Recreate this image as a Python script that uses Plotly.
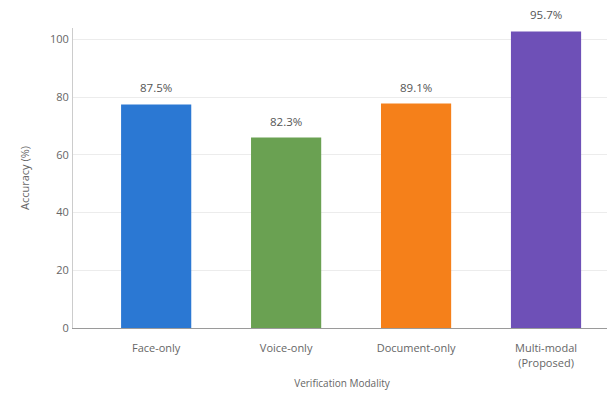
import plotly.graph_objects as go

categories = ["Face-only", "Voice-only", "Document-only", "Multi-modal<br>(Proposed)"]
bar_heights = [77.5, 66.0, 77.8, 102.8]
bar_labels = ["87.5%", "82.3%", "89.1%", "95.7%"]
bar_colors = ["#2b78d3", "#6aa152", "#f5801a", "#6e50b7"]
y_ticks = [0, 20, 40, 60, 80, 100]

FONT = "Open Sans, Noto Sans, sans-serif"

fig = go.Figure()
fig.add_trace(go.Bar(
    x=categories,
    y=bar_heights,
    marker=dict(color=bar_colors, line=dict(width=0)),
    width=0.54,
    hoverinfo="skip",
))

for c, h, t in zip(categories, bar_heights, bar_labels):
    fig.add_annotation(
        x=c, y=h, text=t, showarrow=False,
        yanchor="bottom", yshift=7,
        font=dict(family=FONT, size=11.5, color="#555555"),
    )

fig.update_layout(
    width=615, height=395,
    margin=dict(l=65, r=12, t=20, b=75),
    paper_bgcolor="white",
    plot_bgcolor="white",
    showlegend=False,
    font=dict(family=FONT, color="#666666"),
    xaxis=dict(
        range=[-0.64, 3.5],
        showgrid=False,
        showline=True, linecolor="#9a9a9a", linewidth=1,
        ticks="", ticklabelstandoff=10,
        tickfont=dict(size=11, color="#666666"),
        title=dict(text="Verification Modality", font=dict(size=10, color="#666666"), standoff=11),
    ),
    yaxis=dict(
        range=[0, 104],
        tickvals=y_ticks,
        showgrid=True, gridcolor="#ececec", gridwidth=1,
        showline=True, linecolor="#cccccc", linewidth=1,
        zeroline=False,
        ticks="", ticklabelstandoff=1,
        tickfont=dict(size=11, color="#666666"),
        title=dict(text="Accuracy (%)", font=dict(size=11, color="#666666"), standoff=18),
    ),
)

fig.write_html("out.html")
